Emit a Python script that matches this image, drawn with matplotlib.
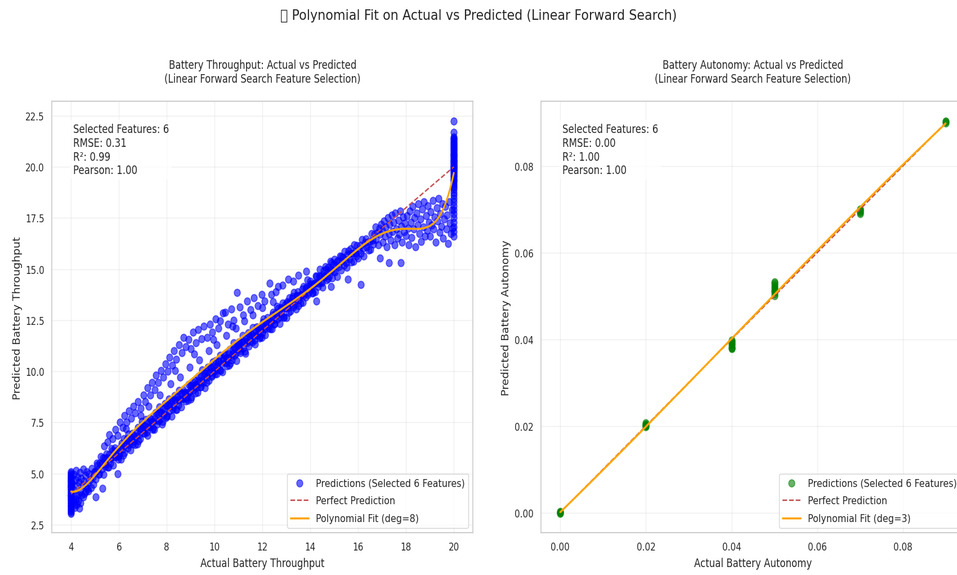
import io
import numpy as np
import matplotlib
matplotlib.use("Agg")
import matplotlib.pyplot as plt
import seaborn as sns
from PIL import Image

sns.set_theme(style="whitegrid")
plt.rcParams['font.family'] = ['DejaVu Sans']

# ---------------- Battery Throughput (actual, predicted) ----------------
# predictions for samples whose actual value sits at the lower bound 4.0
tp_low_clip_pred = [3.05, 3.12, 3.18, 3.24, 3.3, 3.36, 3.42, 3.48, 3.55, 3.61, 3.68, 3.74,
                    3.8, 3.85, 3.9, 3.95, 3.96, 4.02, 4.07, 4.12, 4.18, 4.23, 4.28, 4.33,
                    4.38, 4.4, 4.42, 4.47, 4.52, 4.57, 4.62, 4.66, 4.7, 4.75, 4.8, 4.85,
                    4.9, 4.95, 5.02, 5.1]

# predictions for samples whose actual value sits at the upper bound 20.0
tp_high_clip_pred = [16.6, 16.85, 17.05, 17.3, 17.5, 17.7, 17.9, 18.1, 18.3, 18.45, 18.6,
                     18.75, 18.9, 19.0, 19.1, 19.2, 19.3, 19.35, 19.4, 19.5, 19.55, 19.6,
                     19.65, 19.7, 19.75, 19.8, 19.85, 19.9, 19.95, 19.95, 20.0, 20.05, 20.05,
                     20.1, 20.15, 20.2, 20.2, 20.25, 20.3, 20.3, 20.35, 20.4, 20.45, 20.5,
                     20.55, 20.6, 20.6, 20.65, 20.7, 20.75, 20.8, 20.85, 20.9, 20.95, 21.0,
                     21.05, 21.1, 21.15, 21.2, 21.25, 21.3, 21.35, 21.4, 21.45, 21.7, 22.24]

# main band along the diagonal
tp_band = [
    (4.05, 4.55), (4.08, 3.72), (4.1, 4.95), (4.12, 4.2), (4.15, 3.48), (4.18, 4.68),
    (4.2, 5.15), (4.22, 3.9), (4.25, 4.4), (4.28, 4.82), (4.3, 3.65), (4.33, 4.57),
    (4.36, 5.05), (4.4, 4.12), (4.42, 4.76), (4.45, 3.95), (4.48, 4.45), (4.5, 5.2),
    (4.53, 4.62), (4.56, 4.02), (4.6, 4.9), (4.63, 4.35), (4.66, 5.1), (4.7, 4.55),
    (4.72, 4.15), (4.75, 5.0), (4.8, 4.7), (4.83, 4.3), (4.86, 5.25), (4.9, 4.82),
    (4.93, 4.48), (4.96, 5.05), (5.04, 3.86), (5.3, 4.27), (5.94, 5.0),
    (4.1, 3.6), (4.2, 3.75), (4.3, 3.95), (4.4, 3.55), (4.5, 3.85), (4.6, 4.1),
    (4.15, 3.35), (4.35, 3.3), (4.7, 4.25), (4.25, 3.5),
    (5.00, 5.12), (5.04, 4.73), (5.08, 5.52), (5.12, 5.17), (5.16, 4.98), (5.20, 5.49),
    (5.24, 5.82), (5.28, 5.21), (5.32, 5.53), (5.36, 4.97), (5.40, 5.76), (5.44, 5.46),
    (5.48, 5.97), (5.52, 5.30), (5.56, 5.71), (5.60, 5.91), (5.64, 5.52), (5.68, 6.21),
    (5.72, 5.80), (5.76, 5.42), (5.80, 6.05), (5.84, 6.25), (5.88, 5.85), (5.92, 6.10),
    (5.96, 5.70),
    (6.00, 5.93), (6.04, 6.25), (6.08, 5.69), (6.12, 6.48), (6.16, 6.18), (6.20, 6.69),
    (6.24, 6.02), (6.28, 6.43), (6.32, 6.63), (6.36, 6.24), (6.40, 6.93), (6.44, 6.52),
    (6.48, 6.14), (6.52, 6.77), (6.56, 6.97), (6.60, 6.57), (6.64, 6.82), (6.68, 6.42),
    (6.72, 6.84), (6.76, 6.45), (6.80, 7.24), (6.84, 6.89), (6.88, 6.70), (6.92, 7.21),
    (6.96, 7.54),
    (7.00, 7.15), (7.04, 7.35), (7.08, 6.96), (7.12, 7.65), (7.16, 7.24), (7.20, 6.86),
    (7.24, 7.49), (7.28, 7.69), (7.32, 7.29), (7.36, 7.54), (7.40, 7.14), (7.44, 7.56),
    (7.48, 7.17), (7.52, 7.96), (7.56, 7.61), (7.60, 7.42), (7.64, 7.93), (7.68, 8.26),
    (7.72, 7.65), (7.76, 7.97), (7.80, 7.41), (7.84, 8.20), (7.88, 7.90), (7.92, 8.41),
    (7.96, 7.74),
    (8.00, 7.82), (8.04, 8.33), (8.08, 8.66), (8.12, 8.05), (8.16, 8.37), (8.20, 7.81),
    (8.24, 8.60), (8.28, 8.30), (8.32, 8.81), (8.36, 8.14), (8.40, 8.55), (8.44, 8.75),
    (8.48, 8.36), (8.52, 9.05), (8.56, 8.64), (8.60, 8.26), (8.64, 8.89), (8.68, 9.09),
    (8.72, 8.69), (8.76, 8.94), (8.80, 8.54), (8.84, 8.96), (8.88, 8.57), (8.92, 9.36),
    (8.96, 9.01),
    (9.00, 8.66), (9.04, 9.29), (9.08, 9.49), (9.12, 9.09), (9.16, 9.34), (9.20, 8.94),
    (9.24, 9.36), (9.28, 8.97), (9.32, 9.76), (9.36, 9.41), (9.40, 9.22), (9.44, 9.73),
    (9.48, 10.06), (9.52, 9.45), (9.56, 9.77), (9.60, 9.21), (9.64, 10.00), (9.68, 9.70),
    (9.72, 10.21), (9.76, 9.54), (9.80, 9.95), (9.84, 10.15), (9.88, 9.76), (9.92, 10.45),
    (9.96, 10.04),
    (10.00, 10.02), (10.04, 10.53), (10.08, 9.86), (10.12, 10.27), (10.16, 10.47),
    (10.20, 10.08), (10.24, 10.77), (10.28, 10.36), (10.32, 9.98), (10.36, 10.61),
    (10.40, 10.81), (10.44, 10.41), (10.48, 10.66), (10.52, 10.26), (10.56, 10.68),
    (10.60, 10.29), (10.64, 11.08), (10.68, 10.73), (10.72, 10.54), (10.76, 11.05),
    (10.80, 11.38), (10.84, 10.77), (10.88, 11.09), (10.92, 10.53), (10.96, 11.32),
    (11.00, 11.44), (11.04, 11.09), (11.08, 10.90), (11.12, 11.41), (11.16, 11.74),
    (11.20, 11.13), (11.24, 11.45), (11.28, 10.89), (11.32, 11.68), (11.36, 11.38),
    (11.40, 11.89), (11.44, 11.22), (11.48, 11.63), (11.52, 11.83), (11.56, 11.44),
    (11.60, 12.13), (11.64, 11.72), (11.68, 11.34), (11.72, 11.97), (11.76, 12.17),
    (11.80, 11.77), (11.84, 12.02), (11.88, 11.62), (11.92, 12.04), (11.96, 11.65),
    (12.00, 11.88), (12.04, 12.57), (12.08, 12.16), (12.12, 11.78), (12.16, 12.41),
    (12.20, 12.61), (12.24, 12.21), (12.28, 12.46), (12.32, 12.06), (12.36, 12.48),
    (12.40, 12.09), (12.44, 12.88), (12.48, 12.53), (12.52, 12.34), (12.56, 12.85),
    (12.60, 13.18), (12.64, 12.57), (12.68, 12.89), (12.72, 12.33), (12.76, 13.12),
    (12.80, 12.82), (12.84, 13.33), (12.88, 12.66), (12.92, 13.07), (12.96, 13.27),
    (13.00, 12.61), (13.04, 13.40), (13.08, 13.10), (13.12, 13.61), (13.16, 12.94),
    (13.20, 13.35), (13.24, 13.55), (13.28, 13.16), (13.32, 13.85), (13.36, 13.44),
    (13.40, 13.06), (13.44, 13.69), (13.48, 13.89), (13.52, 13.49), (13.56, 13.74),
    (13.60, 13.34), (13.64, 13.76), (13.68, 13.37), (13.72, 14.16), (13.76, 13.81),
    (13.80, 13.62), (13.84, 14.13), (13.88, 14.46), (13.92, 13.85), (13.96, 14.17),
    (14.00, 14.41), (14.04, 14.01), (14.08, 14.26), (14.12, 13.86), (14.16, 14.28),
    (14.20, 13.89), (14.24, 14.68), (14.28, 14.33), (14.32, 14.14), (14.36, 14.65),
    (14.40, 14.98), (14.44, 14.37), (14.48, 14.69), (14.52, 14.13), (14.56, 14.92),
    (14.60, 14.62), (14.64, 15.13), (14.68, 14.46), (14.72, 14.87), (14.76, 15.07),
    (14.80, 14.68), (14.84, 15.37), (14.88, 14.96), (14.92, 14.58), (14.96, 15.21),
    (14.25, 13.43), (14.87, 14.16),
]

# extra samples in the core of the diagonal band
tp_core = [
    (5.02, 5.07), (5.10, 5.42), (5.18, 4.97), (5.26, 5.44), (5.34, 5.75), (5.42, 5.33),
    (5.50, 5.76), (5.58, 5.30), (5.66, 5.78), (5.74, 6.11), (5.82, 5.80), (5.90, 6.12),
    (5.98, 5.83),
    (6.02, 5.93), (6.10, 6.36), (6.18, 5.90), (6.26, 6.38), (6.34, 6.71), (6.42, 6.40),
    (6.50, 6.72), (6.58, 6.43), (6.66, 6.71), (6.74, 7.06), (6.82, 6.61), (6.90, 7.08),
    (6.98, 7.39),
    (7.02, 7.00), (7.10, 7.32), (7.18, 7.03), (7.26, 7.31), (7.34, 7.66), (7.42, 7.21),
    (7.50, 7.68), (7.58, 7.99), (7.66, 7.57), (7.74, 8.00), (7.82, 7.54), (7.90, 8.02),
    (7.98, 8.35),
    (8.02, 7.81), (8.10, 8.28), (8.18, 8.59), (8.26, 8.17), (8.34, 8.60), (8.42, 8.14),
    (8.50, 8.62), (8.58, 8.95), (8.66, 8.64), (8.74, 8.96), (8.82, 8.67), (8.90, 8.95),
    (8.98, 9.30),
    (9.02, 8.74), (9.10, 9.22), (9.18, 9.55), (9.26, 9.24), (9.34, 9.56), (9.42, 9.27),
    (9.50, 9.55), (9.58, 9.90), (9.66, 9.45), (9.74, 9.92), (9.82, 10.23), (9.90, 9.81),
    (9.98, 10.24),
    (10.02, 9.87), (10.10, 10.15), (10.18, 10.50), (10.26, 10.05), (10.34, 10.52),
    (10.42, 10.83), (10.50, 10.41), (10.58, 10.84), (10.66, 10.38), (10.74, 10.86),
    (10.82, 11.19), (10.90, 10.88), (10.98, 11.20),
    (11.02, 11.43), (11.10, 11.01), (11.18, 11.44), (11.26, 10.98), (11.34, 11.46),
    (11.42, 11.79), (11.50, 11.48), (11.58, 11.80), (11.66, 11.51), (11.74, 11.79),
    (11.82, 12.14), (11.90, 11.69), (11.98, 12.16),
    (12.02, 12.39), (12.10, 12.08), (12.18, 12.40), (12.26, 12.11), (12.34, 12.39),
    (12.42, 12.74), (12.50, 12.29), (12.58, 12.76), (12.66, 13.07), (12.74, 12.65),
    (12.82, 13.08), (12.90, 12.62), (12.98, 13.10),
    (13.02, 13.34), (13.10, 12.89), (13.18, 13.36), (13.26, 13.67), (13.34, 13.25),
    (13.42, 13.68), (13.50, 13.22), (13.58, 13.70), (13.66, 14.03), (13.74, 13.72),
    (13.82, 14.04), (13.90, 13.75), (13.98, 14.03),
    (14.02, 14.28), (14.10, 13.82), (14.18, 14.30), (14.26, 14.63), (14.34, 14.32),
    (14.42, 14.64), (14.50, 14.35), (14.58, 14.63), (14.66, 14.98), (14.74, 14.53),
    (14.82, 15.00), (14.90, 15.31), (14.98, 14.89),
    (15.1, 15.35), (15.3, 15.6), (15.5, 15.3), (15.7, 16.0), (15.9, 15.75),
]

# looser group sitting above the main band
tp_upper = [
    (5.38, 6.35), (5.52, 6.55), (5.6, 6.9), (5.74, 6.7), (5.85, 7.15), (5.95, 6.85),
    (6.05, 7.5), (6.15, 7.25), (6.22, 7.85), (6.33, 7.5), (6.41, 8.05), (6.5, 7.7),
    (6.6, 8.3), (6.68, 7.95), (6.8, 8.5), (6.9, 8.2),
    (7.02, 8.85), (7.1, 8.5), (7.2, 9.2), (7.3, 8.85), (7.38, 9.45), (7.5, 9.1),
    (7.55, 9.8), (7.65, 9.45), (7.75, 10.05), (7.85, 9.7), (7.95, 10.35),
    (8.05, 10.0), (8.12, 10.7), (8.22, 10.3), (8.3, 11.0), (8.4, 10.6), (8.5, 11.3),
    (8.62, 10.9), (8.7, 11.65), (8.8, 11.2), (8.9, 11.55), (9.0, 11.1),
    (9.1, 11.9), (9.22, 11.4), (9.3, 12.05), (9.45, 11.6), (9.55, 12.2), (9.68, 11.65),
    (9.8, 12.3), (9.9, 11.9), (10.05, 12.55), (10.15, 12.1), (10.23, 12.47),
    (10.35, 12.85), (10.44, 12.87), (10.55, 12.3),
    (10.7, 13.05), (10.8, 12.5), (10.93, 13.84), (11.05, 13.15), (11.2, 12.75),
    (11.35, 13.45), (11.5, 13.0), (11.65, 13.6), (11.8, 13.2), (11.97, 13.75),
    (12.1, 13.45), (12.31, 14.3), (12.38, 13.75), (12.55, 13.9), (12.66, 14.16),
    (12.85, 14.2), (13.07, 14.49), (13.3, 14.4), (13.5, 14.7), (13.84, 14.9),
    (6.3, 7.2), (6.9, 7.85), (7.25, 8.3), (7.7, 8.85), (8.15, 9.4), (8.35, 10.05),
    (8.55, 9.7), (8.95, 10.2), (9.15, 10.85), (9.35, 10.55), (9.75, 11.0),
    (9.95, 11.55), (10.1, 11.3), (10.5, 11.75), (10.75, 12.2), (10.9, 12.1),
    (11.25, 12.45), (11.6, 12.75), (12.0, 13.1), (12.45, 13.4),
]

# flattening region at high throughput
tp_tail = [
    (15.00, 15.48), (15.04, 14.87), (15.08, 15.19), (15.12, 14.63), (15.16, 15.42),
    (15.20, 15.12), (15.24, 15.63), (15.28, 14.96), (15.32, 15.37), (15.36, 15.57),
    (15.40, 15.18), (15.44, 15.87), (15.48, 15.46), (15.52, 15.08), (15.56, 15.71),
    (15.60, 15.91), (15.64, 15.51), (15.68, 15.76), (15.72, 15.36), (15.76, 15.78),
    (15.80, 15.39), (15.84, 16.18), (15.88, 15.83), (15.92, 15.64), (15.96, 16.15),
    (15.57, 14.49), (16.12, 14.24), (17.3, 15.3), (17.79, 15.3), (16.92, 15.55),
    (16.00, 15.53), (16.04, 15.94), (16.08, 16.14), (16.12, 15.75), (16.16, 16.44),
    (16.20, 16.03), (16.24, 15.65), (16.28, 16.28), (16.32, 16.48), (16.36, 16.08),
    (16.40, 16.33), (16.44, 15.93), (16.48, 16.35), (16.52, 15.96), (16.56, 16.75),
    (16.60, 16.40), (16.64, 16.21), (16.68, 16.72), (16.72, 17.05), (16.76, 16.44),
    (16.80, 16.76), (16.84, 16.20), (16.88, 16.99), (16.92, 16.69), (16.96, 17.20),
    (17.0, 16.9), (17.04, 16.3), (17.08, 17.35), (17.12, 16.6), (17.16, 17.05),
    (17.2, 16.1), (17.24, 17.5), (17.28, 16.75), (17.32, 17.2), (17.36, 16.4),
    (17.4, 17.65), (17.44, 16.85), (17.48, 17.3), (17.52, 16.2), (17.56, 17.75),
    (17.6, 16.95), (17.64, 16.5), (17.68, 17.4), (17.72, 16.7), (17.76, 17.85),
    (17.8, 17.1), (17.84, 16.3), (17.88, 17.55), (17.92, 16.85), (17.96, 17.25),
    (18.0, 16.65), (18.04, 17.6), (18.08, 17.0), (18.12, 16.2), (18.16, 17.85),
    (18.2, 17.3), (18.24, 16.55), (18.28, 18.05), (18.32, 16.95), (18.36, 17.5),
    (18.4, 16.1), (18.44, 17.75), (18.48, 17.15), (18.52, 18.2), (18.56, 16.75),
    (18.6, 17.45), (18.64, 16.35), (18.68, 17.95), (18.72, 17.05), (18.76, 18.3),
    (18.8, 16.6), (18.84, 17.6), (18.88, 16.9), (18.92, 18.1), (18.96, 17.3),
    (19.0, 16.6), (19.04, 17.8), (19.08, 17.15), (19.12, 18.35), (19.16, 16.95),
    (19.2, 17.55), (19.24, 16.3), (19.28, 18.0), (19.32, 17.35), (19.36, 18.45),
    (19.4, 16.8), (19.44, 17.7), (19.48, 17.1), (19.52, 18.2), (19.56, 16.5),
    (19.6, 17.45), (19.64, 18.05), (19.68, 16.95), (19.72, 17.65), (19.76, 16.25),
    (19.8, 18.3), (19.84, 17.25), (19.88, 16.75), (19.92, 17.9), (19.96, 17.0),
]

tp_metrics = {"features": 6, "rmse": 0.31, "r2": 0.99, "pearson": 1.00}
tp_degree = 8

# ---------------- Battery Autonomy (actual, predicted) ----------------
au_actual = [0.0, 0.0, 0.0, 0.0,
             0.02, 0.02, 0.02, 0.02, 0.02, 0.02,
             0.04, 0.04, 0.04, 0.04, 0.04, 0.04, 0.04, 0.04,
             0.05, 0.05, 0.05, 0.05, 0.05, 0.05, 0.05, 0.05, 0.05, 0.05,
             0.07, 0.07, 0.07, 0.07, 0.07,
             0.09, 0.09, 0.09]
au_pred = [0.0, 0.0002, -0.0002, 0.0001,
           0.0198, 0.0201, 0.0204, 0.0207, 0.0200, 0.0202,
           0.0378, 0.0382, 0.0386, 0.0389, 0.0392, 0.0395, 0.0398, 0.0380,
           0.0501, 0.0505, 0.0509, 0.0513, 0.0517, 0.0521, 0.0525, 0.0529, 0.0533, 0.0511,
           0.0690, 0.0693, 0.0696, 0.0699, 0.0701,
           0.0899, 0.0902, 0.0904]
au_metrics = {"features": 6, "rmse": 0.00, "r2": 1.00, "pearson": 1.00}
au_degree = 3

# ---------------- assemble throughput arrays ----------------
groups = [np.array(g) for g in (tp_band, tp_core, tp_upper, tp_tail)]
tp_actual = np.concatenate([np.full(len(tp_low_clip_pred), 4.0)]
                           + [g[:, 0] for g in groups]
                           + [np.full(len(tp_high_clip_pred), 20.0)])
tp_pred = np.concatenate([tp_low_clip_pred] + [g[:, 1] for g in groups]
                         + [tp_high_clip_pred])
au_actual = np.array(au_actual)
au_pred = np.array(au_pred)


def draw_panel(ax, actual, pred, degree, metrics, color, name):
    ax.scatter(actual, pred, color=color, alpha=0.6, s=62,
               label=f"Predictions (Selected {metrics['features']} Features)")
    lo, hi = actual.min(), actual.max()
    ax.plot([lo, hi], [lo, hi], 'r--', lw=1.6, label='Perfect Prediction')
    fit = np.polynomial.Polynomial.fit(actual, pred, degree)
    xs = np.linspace(lo, hi, 300)
    ax.plot(xs, fit(xs), color='orange', lw=2.2, label=f'Polynomial Fit (deg={degree})')
    ax.set_title(f"{name}: Actual vs Predicted\n(Linear Forward Search Feature Selection)",
                 fontsize=12, pad=21)
    ax.set_xlabel(f"Actual {name}", fontsize=12, labelpad=6)
    ax.set_ylabel(f"Predicted {name}", fontsize=12)
    ax.grid(True, alpha=0.3)
    ax.tick_params(labelsize=11)
    txt = (f"Selected Features: {metrics['features']}\n"
           f"RMSE: {metrics['rmse']:.2f}\n"
           f"R²: {metrics['r2']:.2f}\n"
           f"Pearson: {metrics['pearson']:.2f}")
    ax.text(0.05, 0.95, txt, transform=ax.transAxes, va='top', ha='left', fontsize=12,
            bbox=dict(boxstyle='round', facecolor='white', edgecolor='none', alpha=0.8))
    ax.legend(loc='lower right', fontsize=11.5, frameon=True, labelspacing=0.75)


fig = plt.figure(figsize=(17, 8.7), dpi=100)
ax1 = fig.add_axes([0.0543, 0.073, 0.4399, 0.7496])
ax2 = fig.add_axes([0.5653, 0.073, 0.443, 0.7496])

draw_panel(ax1, tp_actual, tp_pred, tp_degree, tp_metrics, 'blue', 'Battery Throughput')
draw_panel(ax2, au_actual, au_pred, au_degree, au_metrics, 'green', 'Battery Autonomy')

fig.suptitle("📈 Polynomial Fit on Actual vs Predicted (Linear Forward Search)",
             fontsize=16, y=0.972, va='center')

buf = io.BytesIO()
fig.savefig(buf, format='png', dpi=100)
buf.seek(0)
img = Image.open(buf).convert('RGB').resize((957, 575), Image.LANCZOS)
img.save('out.png')
